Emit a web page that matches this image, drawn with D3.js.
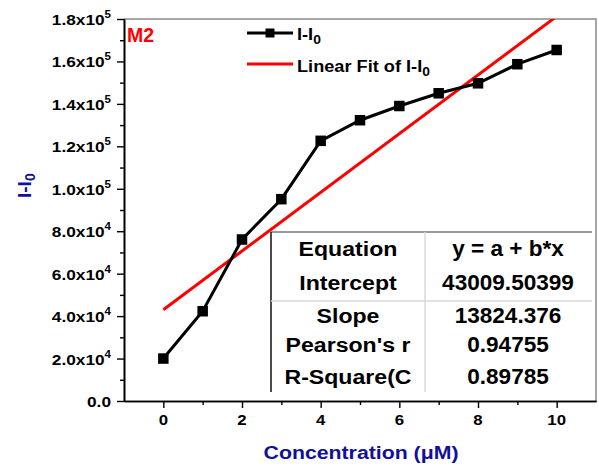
<!DOCTYPE html>
<html>
<head>
<meta charset="utf-8">
<script src="https://cdn.jsdelivr.net/npm/d3@7"></script>
<style>
  html, body { margin: 0; padding: 0; background: #fff; }
  svg { display: block; font-family: "Liberation Sans", Arial, sans-serif; font-weight: bold; }
</style>
</head>
<body>
<div id="chart"></div>
<script>
// measured I-I0 against concentration
const concentration = [0, 1, 2, 3, 4, 5, 6, 7, 8, 9, 10];
const signal = [20000, 42300, 76100, 95100, 122600, 132300, 139000, 145000, 149700, 158700, 165400];

// linear fit results
const fitIntercept = 43009.50399;
const fitSlope = 13824.376;
const fitRows = [
    ["Equation", "y = a + b*x"],
    ["Intercept", "43009.50399"],
    ["Slope", "13824.376"],
    ["Pearson's r", "0.94755"],
    ["R-Square(C", "0.89785"]
];

const xTicks = [0, 2, 4, 6, 8, 10];
const xMinor = [1, 3, 5, 7, 9];
const yTicks = [0, 20000, 40000, 60000, 80000, 100000, 120000, 140000, 160000, 180000];
const yMinor = [10000, 30000, 50000, 70000, 90000, 110000, 130000, 150000, 170000];

const width = 599, height = 468;
const plot = {left: 124, right: 596, top: 19, bottom: 401};
const stretch = 1.12;
const navy = "#10109a";

const svg = d3.select("#chart").append("svg")
    .attr("width", width)
    .attr("height", height);

const x = d3.scaleLinear().domain([-1, 11]).range([plot.left, plot.right]);
const y = d3.scaleLinear().domain([0, 180000]).range([plot.bottom, plot.top]);

svg.append("defs").append("clipPath").attr("id", "plotClip")
    .append("rect")
    .attr("x", plot.left).attr("y", plot.top)
    .attr("width", plot.right - plot.left).attr("height", plot.bottom - plot.top);

// top and right frame
svg.append("path")
    .attr("d", `M${plot.left},${plot.top}H${plot.right}V${plot.bottom}`)
    .attr("fill", "none")
    .attr("stroke", "#8a8a8a")
    .attr("stroke-width", 1.5);

// axes: major ticks from d3, minor ticks as a second pass
function styleAxis(g) {
    g.select(".domain").attr("stroke", "#000").attr("stroke-width", 1.6);
    g.selectAll(".tick line").attr("stroke", "#000").attr("stroke-width", 1.4);
    g.selectAll(".tick text").remove();
}

svg.append("g")
    .attr("transform", `translate(0,${plot.bottom})`)
    .call(d3.axisBottom(x).tickValues(xTicks).tickSize(7).tickSizeOuter(0))
    .call(styleAxis);
svg.append("g")
    .attr("transform", `translate(0,${plot.bottom})`)
    .call(d3.axisBottom(x).tickValues(xMinor).tickSize(4).tickSizeOuter(0))
    .call(styleAxis);

svg.append("g")
    .attr("transform", `translate(${plot.left},0)`)
    .call(d3.axisLeft(y).tickValues(yTicks).tickSize(7).tickSizeOuter(0))
    .call(styleAxis);
svg.append("g")
    .attr("transform", `translate(${plot.left},0)`)
    .call(d3.axisLeft(y).tickValues(yMinor).tickSize(4).tickSizeOuter(0))
    .call(styleAxis);

// x tick labels
svg.append("g").selectAll("text")
    .data(xTicks)
    .enter().append("text")
    .attr("transform", d => `translate(${x(d)},425) scale(${stretch},1)`)
    .attr("text-anchor", "middle")
    .attr("font-size", 15)
    .text(d => d);

// y tick labels in a.bx10^n form
const yLabels = svg.append("g").selectAll("text")
    .data(yTicks)
    .enter().append("text")
    .attr("transform", d => `translate(111,${y(d) + 6}) scale(1.15,1)`)
    .attr("text-anchor", "end")
    .attr("font-size", 15);

yLabels.each(function(d) {
    const t = d3.select(this);
    if (d === 0) {
        t.text("0.0");
        return;
    }
    const exp = Math.floor(Math.log10(d));
    const mant = (d / Math.pow(10, exp)).toFixed(1);
    t.append("tspan").text(mant + "x10");
    t.append("tspan").attr("font-size", 10).attr("dy", -7).text(exp);
});

// axis titles
svg.append("text")
    .attr("transform", `translate(361,459) scale(${stretch},1)`)
    .attr("text-anchor", "middle")
    .attr("font-size", 19)
    .attr("fill", navy)
    .text("Concentration (\u03bcM)");

const yTitle = svg.append("text")
    .attr("transform", "translate(31,198) rotate(-90)")
    .attr("font-size", 19)
    .attr("fill", navy);
yTitle.append("tspan").text("I-I");
yTitle.append("tspan").attr("font-size", 14).attr("dy", 4).text("0");

// panel tag
svg.append("text")
    .attr("x", 127).attr("y", 42)
    .attr("font-size", 19.5)
    .attr("fill", "#ff0000")
    .text("M2");

const plotArea = svg.append("g").attr("clip-path", "url(#plotClip)");

// fitted line over the data range
plotArea.append("line")
    .attr("x1", x(concentration[0]))
    .attr("y1", y(fitIntercept + fitSlope * concentration[0]))
    .attr("x2", x(concentration[concentration.length - 1]))
    .attr("y2", y(fitIntercept + fitSlope * concentration[concentration.length - 1]))
    .attr("stroke", "#ff0000")
    .attr("stroke-width", 3);

// data line and square markers
const line = d3.line()
    .x((d, i) => x(concentration[i]))
    .y(d => y(d));

plotArea.append("path")
    .datum(signal)
    .attr("d", line)
    .attr("fill", "none")
    .attr("stroke", "#000")
    .attr("stroke-width", 3);

const marker = 10.5;
plotArea.selectAll("rect.pt")
    .data(signal)
    .enter().append("rect")
    .attr("class", "pt")
    .attr("x", (d, i) => x(concentration[i]) - marker / 2)
    .attr("y", d => y(d) - marker / 2)
    .attr("width", marker)
    .attr("height", marker)
    .attr("fill", "#000");

// legend
const legend = svg.append("g");
legend.append("line")
    .attr("x1", 247).attr("x2", 293).attr("y1", 33).attr("y2", 33)
    .attr("stroke", "#000").attr("stroke-width", 3);
legend.append("rect")
    .attr("x", 265.5).attr("y", 28.5).attr("width", 9).attr("height", 9)
    .attr("fill", "#000");
const leg1 = legend.append("text")
    .attr("transform", "translate(297,40) scale(1.07,1)")
    .attr("font-size", 17);
leg1.append("tspan").text("I-I");
leg1.append("tspan").attr("font-size", 13).attr("dy", 4).text("0");

legend.append("line")
    .attr("x1", 247).attr("x2", 293).attr("y1", 64).attr("y2", 64)
    .attr("stroke", "#ff0000").attr("stroke-width", 3);
const leg2 = legend.append("text")
    .attr("transform", "translate(297,72) scale(1.07,1)")
    .attr("font-size", 17);
leg2.append("tspan").text("Linear Fit of I-I");
leg2.append("tspan").attr("font-size", 13).attr("dy", 4).text("0");

// fit statistics table
const table = {left: 271, right: 592, top: 232, bottom: 392, split: 425, rule: 301};
const tg = svg.append("g");
tg.append("rect")
    .attr("x", table.left).attr("y", table.top)
    .attr("width", table.right - table.left).attr("height", table.bottom - table.top)
    .attr("fill", "#fff");
tg.append("line")
    .attr("x1", table.left).attr("x2", table.right).attr("y1", table.top).attr("y2", table.top)
    .attr("stroke", "#777").attr("stroke-width", 1.5);
tg.append("line")
    .attr("x1", table.left).attr("x2", table.left).attr("y1", table.top).attr("y2", table.bottom)
    .attr("stroke", "#111").attr("stroke-width", 1.5);
tg.append("line")
    .attr("x1", table.split).attr("x2", table.split).attr("y1", table.top).attr("y2", table.bottom)
    .attr("stroke", "#d8d8d8").attr("stroke-width", 1.5);
tg.append("line")
    .attr("x1", table.left).attr("x2", table.right).attr("y1", table.rule).attr("y2", table.rule)
    .attr("stroke", "#d8d8d8").attr("stroke-width", 1.5);

const rowBase = [256, 290, 323, 352, 384];
fitRows.forEach((row, i) => {
    tg.append("text")
        .attr("transform", `translate(348,${rowBase[i]}) scale(1.1,1)`)
        .attr("text-anchor", "middle")
        .attr("font-size", 21)
        .text(row[0]);
    tg.append("text")
        .attr("transform", `translate(508,${rowBase[i]}) scale(1.05,1)`)
        .attr("text-anchor", "middle")
        .attr("font-size", 21.5)
        .text(row[1]);
});
</script>
</body>
</html>
